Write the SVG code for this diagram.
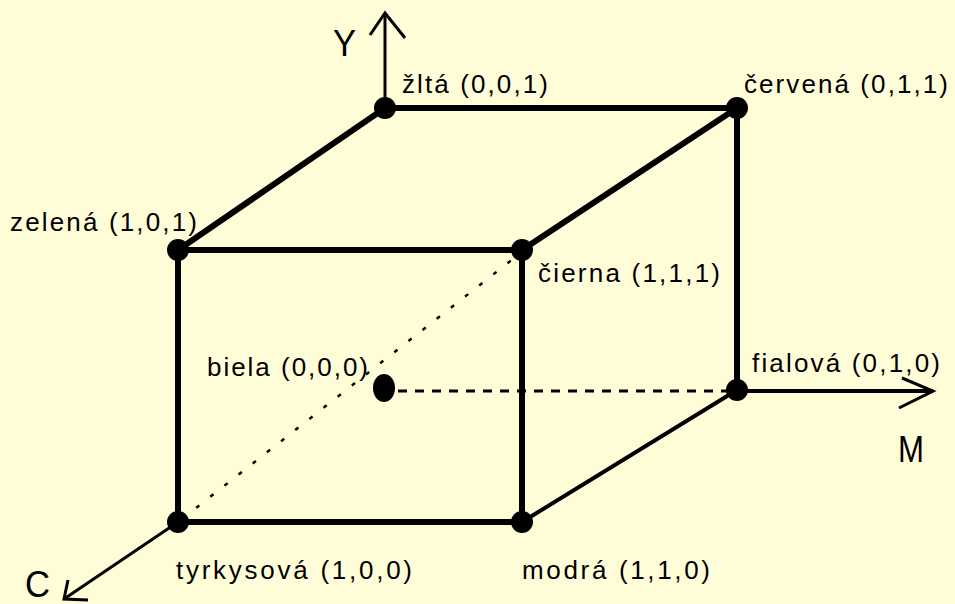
<svg xmlns="http://www.w3.org/2000/svg" width="955" height="604" viewBox="0 0 955 604">
<style>
.lbl{font-family:"Liberation Sans",Arial,sans-serif;font-size:26px;fill:#000}
.ax{font-family:"Liberation Sans",Arial,sans-serif;font-size:36px;fill:#000}
.edge{stroke:#000;stroke-width:6;fill:none;stroke-linecap:round}
.thin{stroke:#000;stroke-width:4;fill:none}
.axis{stroke:#000;stroke-width:3;fill:none}
.dot{fill:#000}
</style>
<rect width="955" height="604" fill="#FFFDD8"/>
<g id="connectors">
  <line class="edge" x1="385" y1="108" x2="737" y2="108"/>
  <line class="edge" x1="385" y1="108" x2="178" y2="250"/>
  <line class="edge" x1="737" y1="108" x2="522" y2="250"/>
  <line class="edge" x1="737" y1="108" x2="737" y2="390"/>
  <line class="edge" x1="178" y1="250" x2="522" y2="250"/>
  <line class="edge" x1="178" y1="250" x2="178" y2="522"/>
  <line class="edge" x1="522" y1="250" x2="522" y2="522"/>
  <line class="edge" x1="178" y1="522" x2="522" y2="522"/>
  <line class="thin" x1="522" y1="522" x2="737" y2="390"/>
  <line stroke="#000" stroke-width="3" stroke-dasharray="9 8" x1="398" y1="391" x2="737" y2="391"/>
  <line stroke="#000" stroke-width="2.5" stroke-dasharray="4 14" x1="182" y1="519" x2="518" y2="255"/>
  <!-- Y axis -->
  <line class="axis" x1="385" y1="108" x2="385" y2="13"/>
  <polyline class="axis" points="370,35 385,13 405,38"/>
  <!-- M axis -->
  <line class="thin" x1="737" y1="391" x2="933" y2="391"/>
  <polyline class="axis" points="902,378 933,391 899,408"/>
  <!-- C axis -->
  <line class="axis" x1="178" y1="522" x2="64" y2="599"/>
  <polyline class="axis" points="68,580 64,599 88,600"/>
</g>
<g id="axis-labels">
  <text class="ax" x="333" y="56" textLength="23" lengthAdjust="spacingAndGlyphs">Y</text>
  <text class="ax" x="898" y="462" textLength="26" lengthAdjust="spacingAndGlyphs">M</text>
  <text class="ax" x="25" y="597" textLength="25" lengthAdjust="spacingAndGlyphs">C</text>
</g>
<g id="zlta"><circle class="dot" cx="385" cy="108" r="11"/><text class="lbl" x="402" y="93" textLength="146" lengthAdjust="spacing">žltá (0,0,1)</text></g>
<g id="cervena"><circle class="dot" cx="737" cy="108" r="11"/><text class="lbl" x="744" y="93" textLength="204" lengthAdjust="spacing">červená (0,1,1)</text></g>
<g id="zelena"><circle class="dot" cx="178" cy="250" r="11"/><text class="lbl" x="10" y="231" textLength="187" lengthAdjust="spacing">zelená (1,0,1)</text></g>
<g id="cierna"><circle class="dot" cx="522" cy="250" r="11"/><text class="lbl" x="538" y="282" textLength="182" lengthAdjust="spacing">čierna (1,1,1)</text></g>
<g id="biela"><ellipse class="dot" cx="384" cy="388" rx="11" ry="14"/><text class="lbl" x="207" y="376" textLength="161" lengthAdjust="spacing">biela (0,0,0)</text></g>
<g id="fialova"><circle class="dot" cx="737" cy="390" r="11"/><text class="lbl" x="752" y="372" textLength="188" lengthAdjust="spacing">fialová (0,1,0)</text></g>
<g id="tyrkysova"><circle class="dot" cx="178" cy="522" r="11"/><text class="lbl" x="176" y="579" textLength="236" lengthAdjust="spacing">tyrkysová (1,0,0)</text></g>
<g id="modra"><circle class="dot" cx="522" cy="522" r="11"/><text class="lbl" x="522" y="579" textLength="188" lengthAdjust="spacing">modrá (1,1,0)</text></g>
</svg>
